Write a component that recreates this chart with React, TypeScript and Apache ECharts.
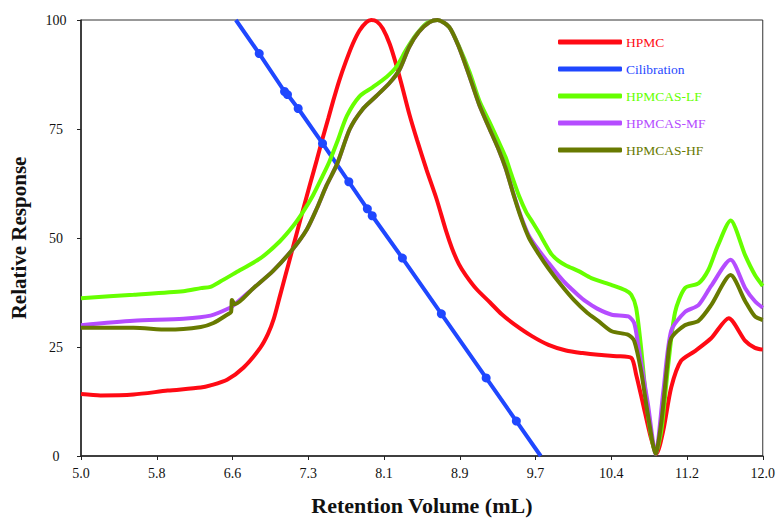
import React, { useEffect, useRef } from "react";
import * as echarts from "echarts";

// x axis: 5.0 .. 12.0 mL split into 9 equal steps (labels 5.0, 5.8, 6.6, ...)
const X_MIN = 5.0;
const X_MAX = 12.0;
const X_STEPS = 9;
const X_STEP = (X_MAX - X_MIN) / X_STEPS;

const Y_MIN = 0;
const Y_MAX = 100;
const Y_INTERVAL = 25;

const seriesNames = ["HPMC", "Cilibration", "HPMCAS-LF", "HPMCAS-MF", "HPMCAS-HF"];
const seriesColors = ["#ff0a14", "#1f47ff", "#66ff00", "#b54cff", "#687a00"];

// [retention volume (mL), relative response]
const hpmc: [number, number][] = [
  [5.0, 14.2], [5.2, 13.9], [5.54, 14.1], [5.89, 15.0], [6.23, 15.7], [6.33, 16.2],
  [6.5, 17.5], [6.67, 20.3], [6.84, 24.8], [6.92, 28.0], [6.98, 31.5], [7.04, 36.5],
  [7.1, 41.5], [7.16, 46.5], [7.22, 51.5], [7.28, 56.5], [7.35, 62.2], [7.42, 67.8],
  [7.48, 72.8], [7.54, 77.5], [7.59, 81.5], [7.65, 86.0], [7.72, 90.5], [7.79, 94.5],
  [7.86, 97.6], [7.93, 99.5], [7.98, 100], [8.04, 99.6], [8.1, 98.0], [8.17, 94.5],
  [8.24, 89.5], [8.3, 84.5], [8.37, 78.5], [8.45, 72.5], [8.55, 65.5], [8.65, 59.0],
  [8.75, 51.5], [8.81, 47.6], [8.88, 44.0], [8.95, 41.5], [9.06, 38.3], [9.2, 35.2],
  [9.32, 32.5], [9.45, 30.2], [9.63, 27.5], [9.8, 25.5], [9.98, 24.2], [10.15, 23.6],
  [10.31, 23.2], [10.5, 22.9], [10.65, 22.5], [10.7, 18.7], [10.77, 12.0], [10.85, 4.3],
  [10.91, 0.5], [10.98, 6.0], [11.06, 15.7], [11.16, 21.8], [11.3, 24.0], [11.47, 27.0],
  [11.65, 31.6], [11.82, 26.4], [11.92, 24.8], [12.0, 24.4],
];

const calibration: [number, number][] = [
  [6.83, 92.3], [7.09, 83.6], [7.12, 82.9], [7.23, 79.7], [7.48, 71.7], [7.75, 62.9],
  [7.94, 56.7], [7.99, 55.1], [8.3, 45.4], [8.7, 32.6], [9.16, 17.9], [9.47, 8.0],
];
const calibrationEnds: [number, number][] = [[6.59, 100], [9.72, 0]];

const hpmcasLF: [number, number][] = [
  [5.0, 36.2], [5.54, 37.0], [6.05, 37.8], [6.23, 38.5], [6.33, 38.8], [6.43, 40.0],
  [6.63, 42.6], [6.84, 45.3], [7.04, 49.2], [7.18, 52.8], [7.28, 56.0], [7.38, 59.7],
  [7.48, 64.2], [7.55, 67.5], [7.63, 72.0], [7.73, 78.0], [7.86, 82.5], [7.99, 84.5],
  [8.14, 87.0], [8.24, 89.3], [8.34, 93.2], [8.44, 96.6], [8.55, 99.3], [8.66, 100],
  [8.78, 98.4], [8.88, 94.0], [8.99, 88.0], [9.09, 81.5], [9.19, 76.8], [9.29, 72.0],
  [9.36, 68.5], [9.42, 64.5], [9.5, 59.5], [9.57, 56.0], [9.64, 53.5], [9.7, 51.3],
  [9.77, 48.5], [9.83, 46.3], [9.9, 44.8], [9.98, 43.7], [10.11, 42.4], [10.24, 40.8],
  [10.45, 39.2], [10.59, 38.0], [10.65, 37.0], [10.7, 34.0], [10.75, 25.0], [10.82, 9.6],
  [10.9, 0.5], [10.96, 6.0], [11.03, 21.0], [11.1, 33.0], [11.2, 38.5], [11.34, 39.6],
  [11.44, 42.6], [11.54, 48.3], [11.67, 54.0], [11.82, 46.0], [11.92, 41.5], [12.0, 39.0],
];

const hpmcasMF: [number, number][] = [
  [5.0, 30.0], [5.54, 31.0], [6.05, 31.5], [6.33, 32.2], [6.53, 34.0], [6.58, 34.8],
  [6.77, 38.5], [6.97, 42.4], [7.18, 47.6], [7.32, 52.0], [7.42, 56.7], [7.52, 62.0],
  [7.63, 67.0], [7.76, 75.0], [7.89, 79.5], [8.03, 82.5], [8.17, 85.6], [8.27, 88.6],
  [8.37, 93.8], [8.47, 97.3], [8.58, 99.5], [8.66, 100], [8.78, 98.4], [8.88, 93.8],
  [8.99, 87.0], [9.09, 80.5], [9.19, 75.3], [9.29, 70.2], [9.36, 66.0], [9.44, 60.2],
  [9.52, 54.8], [9.6, 50.5], [9.7, 47.2], [9.8, 44.3], [9.9, 41.5], [9.98, 39.5],
  [10.1, 37.0], [10.18, 35.5], [10.3, 33.8], [10.45, 32.4], [10.62, 32.0], [10.68, 30.5],
  [10.72, 25.6], [10.82, 12.0], [10.9, 0.5], [10.98, 15.0], [11.06, 28.7], [11.2, 33.0],
  [11.34, 34.6], [11.47, 39.0], [11.67, 45.0], [11.82, 38.5], [11.92, 35.5], [12.0, 34.0],
];

const hpmcasHF: [number, number][] = [
  [5.0, 29.4], [5.54, 29.4], [5.89, 29.0], [6.23, 29.6], [6.36, 30.5], [6.5, 32.4],
  [6.54, 33.0], [6.55, 35.8], [6.58, 34.8], [6.77, 38.5], [6.97, 42.4], [7.18, 47.6],
  [7.32, 52.0], [7.42, 56.7], [7.52, 62.0], [7.63, 67.0], [7.76, 75.0], [7.89, 79.5],
  [8.03, 82.5], [8.17, 85.6], [8.27, 88.6], [8.37, 93.8], [8.47, 97.3], [8.58, 99.5],
  [8.66, 100], [8.78, 98.4], [8.88, 93.8], [8.99, 87.0], [9.09, 80.5], [9.19, 75.3],
  [9.29, 70.2], [9.36, 66.0], [9.44, 60.0], [9.52, 54.5], [9.6, 50.0], [9.7, 46.3],
  [9.8, 43.0], [9.93, 39.2], [10.06, 35.8], [10.2, 32.8], [10.31, 31.0], [10.45, 28.6],
  [10.62, 27.8], [10.68, 26.4], [10.75, 19.6], [10.82, 9.6], [10.9, 0.5], [10.96, 8.0],
  [11.02, 21.0], [11.06, 27.0], [11.2, 30.0], [11.34, 31.0], [11.47, 34.6], [11.67, 41.5],
  [11.82, 35.5], [11.92, 32.0], [12.0, 31.2],
];

const toU = (x: number) => (x - X_MIN) / X_STEP;
const mapPts = (pts: [number, number][]) => pts.map(([x, y]) => [toU(x), y]);

const SERIF = "'Liberation Serif', 'DejaVu Serif', serif";

export default function App() {
  const ref = useRef<HTMLDivElement>(null);

  useEffect(() => {
    if (!ref.current) return;
    const chart = echarts.init(ref.current, undefined, { renderer: "svg" });

    const calData = [
      { value: [toU(calibrationEnds[0][0]), calibrationEnds[0][1]], symbol: "none" },
      ...calibration.map(([x, y]) => ({ value: [toU(x), y] })),
      { value: [toU(calibrationEnds[1][0]), calibrationEnds[1][1]], symbol: "none" },
    ];

    const lineSeries = (i: number, data: any[], extra: any = {}) => ({
      name: seriesNames[i],
      type: "line",
      data,
      showSymbol: false,
      symbol: "none",
      smooth: 0.25,
      lineStyle: { color: seriesColors[i], width: 4 },
      itemStyle: { color: seriesColors[i] },
      z: 2 + i,
      ...extra,
    });

    chart.setOption({
      animation: false,
      backgroundColor: "#ffffff",
      grid: {
        left: 80,
        right: 13,
        top: 20,
        bottom: 62,
        show: true,
        borderColor: "#333333",
        borderWidth: 1,
      },
      legend: {
        show: true,
        orient: "vertical",
        left: 558,
        top: 35,
        padding: 0,
        itemWidth: 64,
        itemHeight: 5,
        itemGap: 13,
        icon: "roundRect",
        selectedMode: false,
        data: seriesNames.map((n, i) => ({
          name: n,
          textStyle: { color: seriesColors[i] },
        })),
        textStyle: { fontFamily: SERIF, fontSize: 13.5, padding: [0, 0, 0, -1] },
      },
      xAxis: {
        type: "value",
        min: 0,
        max: X_STEPS,
        interval: 1,
        name: "Retention Volume (mL)",
        nameLocation: "middle",
        nameGap: 38,
        nameTextStyle: {
          fontFamily: SERIF,
          fontSize: 22,
          fontWeight: "bold",
          color: "#111",
        },
        axisLine: { show: true, lineStyle: { color: "#222", width: 1.5 } },
        axisTick: { show: true, length: 4, lineStyle: { color: "#222" } },
        splitLine: { show: false },
        axisLabel: {
          color: "#111",
          fontFamily: SERIF,
          fontSize: 14,
          margin: 10,
          formatter: (v: number) => (X_MIN + v * X_STEP).toFixed(1),
        },
      },
      yAxis: {
        type: "value",
        min: Y_MIN,
        max: Y_MAX,
        interval: Y_INTERVAL,
        name: "Relative Response",
        nameLocation: "middle",
        nameGap: 52,
        nameTextStyle: {
          fontFamily: SERIF,
          fontSize: 21,
          fontWeight: "bold",
          color: "#111",
        },
        axisLine: { show: true, lineStyle: { color: "#222", width: 1.5 } },
        axisTick: { show: true, length: 4, lineStyle: { color: "#222" } },
        splitLine: { show: false },
        axisLabel: {
          color: "#111",
          fontFamily: SERIF,
          fontSize: 14,
          margin: 25,
          align: "center",
        },
      },
      series: [
        lineSeries(0, mapPts(hpmc)),
        lineSeries(1, calData, {
          smooth: false,
          showSymbol: true,
          symbol: "circle",
          symbolSize: 9,
        }),
        lineSeries(2, mapPts(hpmcasLF)),
        lineSeries(3, mapPts(hpmcasMF)),
        lineSeries(4, mapPts(hpmcasHF)),
      ],
    });

    return () => chart.dispose();
  }, []);

  return (
    <div
      ref={ref}
      style={{ position: "fixed", left: 0, top: 0, width: 778, height: 521, background: "#fff" }}
    />
  );
}
